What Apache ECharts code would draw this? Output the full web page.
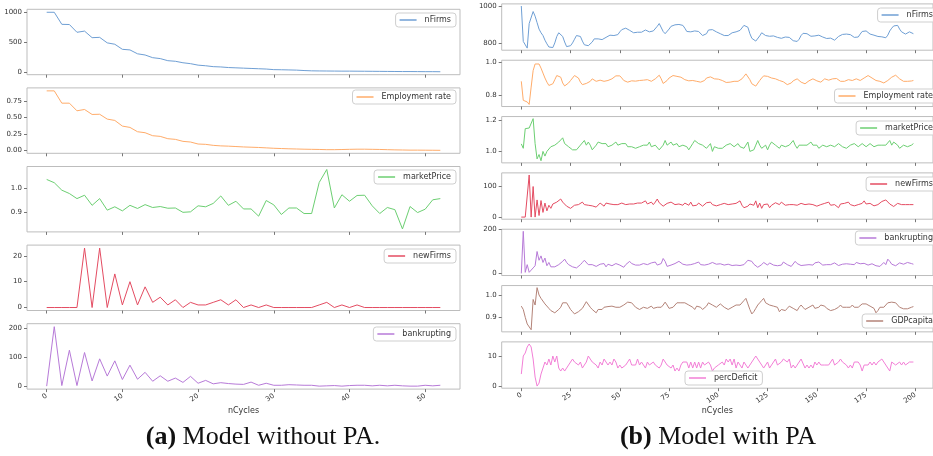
<!DOCTYPE html>
<html>
<head>
<meta charset="utf-8">
<script src="https://cdn.jsdelivr.net/npm/echarts@6/dist/echarts.min.js"></script>
<style>
  html, body { margin: 0; padding: 0; background: #fff; }
  #main { width: 933px; height: 456px; }
</style>
</head>
<body>
<div id="main"></div>
<script>
// ---- (a) model without PA : nCycles 0..52
var aFirms = [1000,1000,798,795,665,685,575,580,488,465,380,370,305,285,240,225,190,180,155,140,
  115,105,90,85,75,70,65,60,55,50,40,38,35,32,25,20,18,17,16,15,15,14,13,12,11,10,9,8,8,7,6,6,5];
var aEmp = [0.90,0.90,0.715,0.715,0.60,0.62,0.545,0.548,0.475,0.455,0.37,0.35,0.285,0.27,0.225,0.215,0.18,0.17,0.14,0.13,
  0.10,0.095,0.08,0.072,0.068,0.062,0.056,0.052,0.048,0.042,0.036,0.032,0.028,0.025,0.022,0.02,0.018,0.015,0.015,0.017,
  0.02,0.022,0.022,0.02,0.018,0.015,0.012,0.01,0.008,0.008,0.007,0.006,0.005];
var aPrice = [1.0375,1.024,0.993,0.979,0.958,0.972,0.930,0.958,0.910,0.924,0.907,0.930,0.917,0.933,0.921,0.925,0.918,0.919,0.901,0.903,
  0.928,0.924,0.938,0.969,0.930,0.947,0.915,0.915,0.885,0.950,0.932,0.892,0.919,0.919,0.896,0.896,1.025,1.079,0.919,0.974,
  0.947,0.971,0.972,0.928,0.896,0.921,0.912,0.832,0.925,0.900,0.914,0.953,0.958];
var aNew = [0,0,0,0,0,23,0,23,0,13,1,10,1,8,2,4,1,3,0,2,
  1,1,2,3,1,3,0,1,0,1,0,0,0,0,0,0,1,2,0,1,
  0,1,0,0,0,0,0,0,0,0,0,0,0];
var aBank = [0,207,2,125,2,117,18,95,35,88,23,73,24,48,17,36,17,28,13,34,
  10,20,8,12,9,7,6,14,3,10,3,3,5,4,3,3,0,1,2,0,
  2,3,3,1,3,1,3,1,0,0,3,1,3];

// ---- (b) model with PA : nCycles 0..199
var bFirms = [1000,808,806,772,905,900,970,945,910,875, 855,840,815,795,778,774,775,800,835,855,
  852,835,805,780,778,785,800,820,840,845, 835,810,790,785,785,790,805,822,826,822,
  815,818,824,830,836,842,845,840,835,845, 860,872,876,880,878,868,860,855,856,858,
  862,858,860,870,862,860,862,865,875,890, 905,895,862,850,858,875,890,895,898,900,
  900,898,895,880,862,860,860,858,865,860, 862,858,840,835,850,870,880,872,862,860,
  855,850,848,840,835,840,848,855,858,860, 862,868,878,895,900,885,850,825,815,810,
  820,838,855,852,840,832,836,840,838,832, 830,828,825,826,832,835,830,822,812,806,
  808,820,840,852,855,850,842,836,835,838, 840,842,838,832,826,824,828,826,818,815,
  825,835,842,846,848,848,846,845,838,830, 826,832,848,862,870,865,855,848,845,842,
  838,835,836,833,830,828,842,865,880,892, 900,895,875,860,855,848,852,860,852,850];
var bEmp = [.885,.77,.77,.76,.745,.85,.95,.99,1.0,.99, .965,.935,.905,.88,.86,.855,.87,.895,.92,.93,
  .91,.875,.857,.86,.875,.89,.905,.92,.925,.905, .88,.865,.868,.872,.87,.885,.9,.898,.885,.888,
  .892,.89,.885,.895,.89,.888,.9,.91,.918,.92, .918,.905,.89,.882,.88,.885,.888,.89,.886,.888,
  .89,.888,.892,.9,.895,.888,.885,.89,.9,.912, .922,.9,.872,.875,.89,.905,.915,.92,.918,.915,
  .915,.91,.905,.895,.89,.888,.885,.89,.89,.885, .885,.88,.875,.89,.905,.915,.912,.905,.9,.9,
  .898,.895,.89,.885,.878,.876,.88,.882,.885,.888, .885,.89,.9,.915,.93,.92,.895,.87,.858,.856,
  .868,.89,.905,.918,.92,.915,.91,.905,.902,.9, .895,.89,.888,.882,.872,.865,.868,.875,.888,.898,
  .9,.89,.88,.872,.87,.878,.888,.895,.9,.895, .888,.882,.88,.89,.9,.898,.892,.895,.9,.905,
  .902,.895,.885,.88,.885,.892,.895,.892,.89,.895, .9,.895,.89,.895,.905,.915,.92,.918,.905,.895,
  .89,.885,.885,.878,.875,.88,.89,.9,.91,.918, .922,.915,.9,.888,.885,.887,.885,.888,.887,.89];
var bPrice = [1.048,1.02,1.146,1.14,1.15,1.16,1.21,1.05,.952,.98, .94,1.0,.97,1.0,.99,1.03,1.02,1.04,1.05,1.06,
  1.07,1.087,1.05,1.04,1.03,1.02,1.01,1.0,1.01,1.0, 1.04,1.05,1.07,1.04,1.06,1.04,1.01,1.02,1.04,1.06,
  1.07,1.05,1.06,1.05,1.03,1.02,1.04,1.05,1.06,1.04, 1.03,1.05,1.04,1.05,1.03,1.02,1.03,1.03,1.02,1.02,
  1.03,1.04,1.04,1.03,1.04,1.06,1.03,1.04,1.04,1.03, 1.01,1.0,1.04,1.07,1.04,1.04,1.06,1.04,1.03,1.05,
  1.03,1.04,1.04,1.05,1.03,1.01,1.02,1.05,1.07,1.06, 1.05,1.04,1.04,1.03,1.02,1.03,1.05,1.0,1.03,1.03,
  1.02,1.01,1.02,1.03,1.04,1.03,1.05,1.04,1.03,1.04, 1.05,1.03,1.04,1.02,1.04,1.06,1.0,.99,1.01,1.04,
  1.07,1.04,1.02,1.03,1.04,1.01,1.04,1.06,1.05,1.04, 1.03,1.02,1.04,1.05,1.03,1.04,1.04,1.03,1.07,1.04,
  1.02,1.04,1.05,1.04,1.03,1.04,1.05,1.06,1.04,1.03, 1.04,1.02,1.03,1.04,1.05,1.03,1.04,1.04,1.05,1.03,
  1.04,1.05,1.04,1.03,1.04,1.02,1.03,1.04,1.03,1.05, 1.04,1.03,1.03,1.05,1.04,1.03,1.04,1.05,1.04,1.03,
  1.03,1.04,1.03,1.04,1.05,1.04,1.03,1.07,1.04,1.06, 1.05,1.04,1.02,1.03,1.04,1.04,1.03,1.04,1.04,1.05];
var bNew = [0,0,0,0,135,0,98,0,55,5, 53,15,45,20,38,28,42,42,48,45,
  58,48,50,35,35,28,32,38,40,40, 45,48,40,36,38,35,36,38,32,38,
  45,42,35,45,40,42,48,40,38,40, 42,45,42,40,38,42,40,42,44,45,
  43,45,44,52,42,45,48,40,48,58, 46,42,35,40,44,46,48,43,40,38,
  42,40,38,45,42,38,48,36,40,38, 45,42,35,40,46,44,48,40,38,36,
  42,40,38,44,45,40,38,42,48,44, 42,52,38,30,28,35,42,48,38,52,
  30,45,28,40,35,42,30,38,42,46, 44,40,48,45,38,42,40,36,40,42,
  38,40,44,42,40,38,42,44,40,36, 35,38,40,36,44,40,48,38,42,40,
  46,30,42,48,44,50,48,40,38,36, 42,40,38,44,52,42,40,44,38,36,
  42,40,44,50,48,55,50,42,46,34, 40,44,38,40,42,40,40,40,41,40];
var bBank = [0,192,5,40,5,15,25,35,100,60, 80,50,70,35,50,30,25,30,28,40,
  45,55,65,50,40,35,30,25,25,30, 40,50,60,55,40,38,40,35,32,40,
  42,48,45,30,42,38,35,40,45,42, 38,30,28,40,48,55,45,42,38,40,
  38,42,45,48,40,44,48,42,52,38, 30,45,68,55,32,35,38,40,45,52,
  55,48,42,40,38,42,40,38,45,42, 52,40,35,38,40,42,48,50,45,42,
  40,44,42,38,40,42,38,36,40,38, 42,36,38,40,45,60,68,55,42,35,
  28,32,40,50,45,38,48,40,38,42, 35,40,38,52,45,40,35,32,40,55,
  45,42,36,40,38,42,40,44,38,48, 40,52,45,38,42,40,35,40,38,48,
  40,36,38,42,40,44,46,42,38,40, 50,48,44,42,46,44,38,42,44,40,
  35,30,32,38,50,40,65,55,42,46, 35,40,48,45,42,38,50,44,45,42];
var bGdp = [.95,.935,.90,.87,.865,.844,.98,.955,1.033,1.0, .985,.99,.96,.955,.94,.93,.925,.92,.925,.935,
  .945,.965,.97,.965,.95,.935,.925,.915,.92,.925, .93,.94,.945,.97,.965,.945,.935,.93,.92,.935,
  .94,.935,.945,.95,.948,.945,.95,.948,.945,.95, .945,.95,.955,.962,.968,.972,.965,.955,.945,.94,
  .935,.94,.945,.942,.94,.945,.95,.94,.935,.945, .94,.945,.955,.968,.955,.94,.935,.945,.955,.965,
  .97,.965,.96,.965,.958,.955,.95,.945,.935,.95, .955,.945,.935,.94,.95,.965,.96,.955,.95,.945,
  .95,.96,.955,.945,.938,.935,.94,.945,.95,.955, .948,.955,.96,.975,.985,.96,.935,.915,.925,.94,
  .955,.965,.975,.985,.965,.96,.955,.958,.95,.945, .945,.925,.935,.93,.93,.94,.95,.945,.94,.935,
  .93,.945,.955,.945,.935,.93,.945,.95,.955,.94, .935,.945,.955,.96,.95,.94,.935,.93,.925,.935,
  .94,.945,.955,.945,.94,.945,.95,.945,.955,.945, .95,.945,.95,.96,.965,.96,.955,.95,.945,.94,
  .92,.93,.945,.945,.945,.955,.965,.97,.968,.975, .965,.955,.945,.94,.938,.94,.938,.94,.945,.948];
var bDef = [4,10,11,13,14,13,9,3,0,1, 4,6,8,7,9,7,10,8,10,6,
  5,6,5,6,7,8,9,8,8,7, 8,6,7,8,10,9,8,8,7,6,
  8,7,9,8,7,8,7,9,8,6, 7,6,6,7,8,9,7,7,7,9,
  7,8,7,6,8,7,7,8,7,7, 6,7,9,9,7,7,6,7,5,6,
  5,7,8,8,8,6,8,6,8,6, 8,6,8,7,7,8,7,5,6,6,
  7,7,8,7,9,8,9,7,9,6, 8,7,6,8,7,6,7,8,9,10,
  9,8,7,6,6,8,6,7,7,9, 7,7,8,9,9,8,9,6,7,6,
  7,8,9,9,6,7,6,7,6,8, 7,8,7,7,7,7,7,8,9,7,
  7,8,9,8,8,7,6,7,6,8, 8,8,7,5,7,7,7,8,7,8,
  7,8,8,9,9,7,7,5,8,8, 7,7,8,7,8,7,7,8,8,8];

var aXTicks = [0,10,20,30,40,50];
var bXTicks = [0,25,50,75,100,125,150,175,200];

var C = {
  nFirms: '#6f9fd4', emp: '#ffac6a', price: '#6ccf72', newF: '#e44c62',
  bank: '#b77ad8', gdp: '#b48378', def: '#f27fd6'
};

// one row per subplot: name, data, y ticks, decimals, colour, legend placement
var rows = [
  {side: 'a', r: 0, name: 'nFirms', data: aFirms, ticks: [0,500,1000], dec: 0, color: C.nFirms, lg: {right: 477, top: 13}},
  {side: 'a', r: 1, name: 'Employment rate', data: aEmp, ticks: [0,0.25,0.5,0.75], dec: 2, color: C.emp, lg: {right: 477, top: 90}},
  {side: 'a', r: 2, name: 'marketPrice', data: aPrice, ticks: [0.9,1.0], dec: 1, color: C.price, lg: {right: 477, top: 170}},
  {side: 'a', r: 3, name: 'newFirms', data: aNew, ticks: [0,10,20], dec: 0, color: C.newF, lg: {right: 477, top: 249}},
  {side: 'a', r: 4, name: 'bankrupting', data: aBank, ticks: [0,100,200], dec: 0, color: C.bank, lg: {right: 477, top: 327}},
  {side: 'b', r: 0, name: 'nFirms', data: bFirms, ticks: [800,1000], dec: 0, color: C.nFirms, lg: {right: -5, top: 8}},
  {side: 'b', r: 1, name: 'Employment rate', data: bEmp, ticks: [0.8,1.0], dec: 1, color: C.emp, lg: {right: -5, top: 89}},
  {side: 'b', r: 2, name: 'marketPrice', data: bPrice, ticks: [1.0,1.2], dec: 1, color: C.price, lg: {right: -5, top: 121}},
  {side: 'b', r: 3, name: 'newFirms', data: bNew, ticks: [0,100], dec: 0, color: C.newF, lg: {right: -5, top: 177}},
  {side: 'b', r: 4, name: 'bankrupting', data: bBank, ticks: [0,200], dec: 0, color: C.bank, lg: {right: -5, top: 231}},
  {side: 'b', r: 5, name: 'GDPcapita', data: bGdp, ticks: [0.9,1.0], dec: 1, color: C.gdp, lg: {right: -5, top: 314}},
  {side: 'b', r: 6, name: 'percDeficit', data: bDef, ticks: [0,10], dec: 0, color: C.def, lg: {left: 685, top: 371}}
];

function padRange(arr) {
  var mn = Math.min.apply(null, arr), mx = Math.max.apply(null, arr);
  var m = (mx - mn) * 0.05;
  return [mn - m, mx + m];
}

var grids = [], xAxes = [], yAxes = [], series = [], legends = [];
var tickFont = {fontSize: 7, color: '#333', fontFamily: 'DejaVu Sans'};

rows.forEach(function (row, i) {
  var isA = row.side === 'a';
  var nRows = isA ? 5 : 7;
  var last = row.r === nRows - 1;
  var n = row.data.length - 1;
  var xr = [-0.05 * n, n * 1.05];
  var yr = padRange(row.data);
  var xt = isA ? aXTicks : bXTicks;

  grids.push(isA
    ? {left: 27, width: 433, top: 9.3 + 78.6 * row.r, height: 65.4,
       show: true, borderColor: '#bdbdbd', borderWidth: 1}
    : {left: 501.7, width: 438.9, top: 3.9 + 56.33 * row.r, height: 46.3,
       show: true, borderColor: '#bdbdbd', borderWidth: 1});

  xAxes.push({
    gridIndex: i, type: 'value', min: xr[0], max: xr[1],
    axisLine: {show: false, onZero: false}, splitLine: {show: false},
    axisTick: {show: true, length: 3, customValues: xt, lineStyle: {color: '#777'}},
    axisLabel: Object.assign({show: last, customValues: xt, rotate: 35, margin: 6}, tickFont),
    name: last ? 'nCycles' : '', nameLocation: 'middle', nameGap: isA ? 18 : 19,
    nameTextStyle: {fontSize: 8, color: '#333', fontFamily: 'DejaVu Sans'}
  });

  yAxes.push({
    gridIndex: i, type: 'value', min: yr[0], max: yr[1],
    axisLine: {show: false, onZero: false}, splitLine: {show: false},
    axisTick: {show: true, length: 3, customValues: row.ticks, lineStyle: {color: '#777'}},
    axisLabel: Object.assign({customValues: row.ticks, margin: 5,
      formatter: (function (d) { return function (v) { return v.toFixed(d); }; })(row.dec)}, tickFont)
  });

  series.push({
    name: row.name, type: 'line', xAxisIndex: i, yAxisIndex: i,
    showSymbol: false, symbol: 'none', silent: true,
    lineStyle: {width: 1, color: row.color}, itemStyle: {color: row.color},
    data: row.data.map(function (v, k) { return [k, v]; })
  });

  legends.push(Object.assign({
    data: [row.name], icon: 'rect', itemWidth: 17, itemHeight: 1.5,
    padding: [3, 5, 3, 4], borderColor: '#cfcfcf', borderWidth: 1, borderRadius: 3,
    backgroundColor: 'rgba(255,255,255,0.85)', selectedMode: false,
    textStyle: {fontSize: 8, color: '#333', fontFamily: 'DejaVu Sans', padding: [0, 0, 0, 3]}
  }, row.lg));
});

var chart = echarts.init(document.getElementById('main'), null, {renderer: 'canvas'});
chart.setOption({
  animation: false,
  backgroundColor: '#fff',
  grid: grids, xAxis: xAxes, yAxis: yAxes, series: series, legend: legends,
  graphic: [
    {type: 'text', x: 263, y: 437, style: {
      text: '{b|(a)} Model without PA.', textAlign: 'center', textVerticalAlign: 'middle',
      fontSize: 26, fontFamily: 'Liberation Serif', fill: '#111',
      rich: {b: {fontWeight: 'bold', fontSize: 26, fontFamily: 'Liberation Serif'}}}},
    {type: 'text', x: 718, y: 437, style: {
      text: '{b|(b)} Model with PA', textAlign: 'center', textVerticalAlign: 'middle',
      fontSize: 26, fontFamily: 'Liberation Serif', fill: '#111',
      rich: {b: {fontWeight: 'bold', fontSize: 26, fontFamily: 'Liberation Serif'}}}}
  ]
});
</script>
</body>
</html>
